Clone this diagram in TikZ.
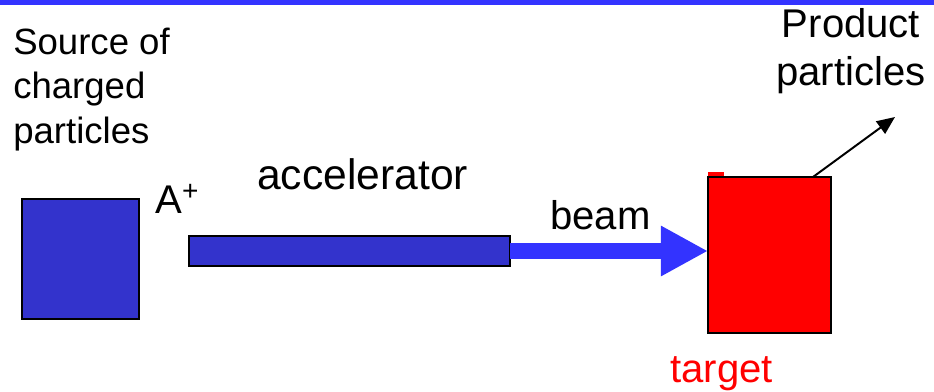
\documentclass[tikz,border=0pt]{standalone}
\usepackage{fontspec}
\setmainfont{Liberation Sans}
\usetikzlibrary{arrows.meta}
\definecolor{srcblue}{HTML}{3333CC}
\definecolor{beamblue}{HTML}{3333FF}
\def\px{0.025cm}

\begin{document}
\begin{tikzpicture}[x=\px,y=-\px,
	box/.style={draw=black,line width=1.3pt,inner sep=0pt,outer sep=0pt,anchor=north west},
	lbl/.style={inner sep=0pt,font=\fontsize{28.5}{34}\selectfont}]
	%%%%% START %%%%%
	\useasboundingbox (0,0) rectangle (934,391);
	\fill[beamblue] (0,0) rectangle (934,5);
	
	\node[box,fill=srcblue,minimum width=117*\px,minimum height=120*\px] (source) at (22,199) {};
	\node[box,fill=srcblue,minimum width=321*\px,minimum height=30*\px] (accel) at (189,236) {};
	
	\fill[red] (708,172) rectangle (724,177);
	\node[box,fill=red,minimum width=123*\px,minimum height=156*\px] (target) at (708,177) {};
	
	\draw[beamblue,line width=0.4cm,-{Triangle[length=1.175cm,width=1.175cm]}] (accel.east) -- (accel.east -| target.west);
	
	\coordinate (prod) at (895,117);
	\draw[line width=1.4pt,-{Triangle[length=0.45cm,width=0.38cm]}] ([xshift=-0.45cm]target.north east) -- (prod);
	
	% multi-line labels: base is the last line
	\node[lbl,anchor=base west,align=left,font=\fontsize{26}{31.3}\selectfont] (srclbl) at (13,143) {Source of\\charged\\particles};
	\node[lbl,anchor=base,align=center] (prodlbl) at (851,85) {Product\\particles};
	\node[lbl,anchor=base west] (ion) at (155,213) {A\textsuperscript{+}};
	\node[lbl,anchor=base west,font=\fontsize{30.3}{36}\selectfont] (accellbl) at (257,189) {accelerator};
	\node[lbl,anchor=base west] (beamlbl) at (550,229) {beam};
	\node[lbl,anchor=base west,text=red] (targetlbl) at (670,382) {target};
	%%%%% END %%%%%
\end{tikzpicture}
\end{document}
